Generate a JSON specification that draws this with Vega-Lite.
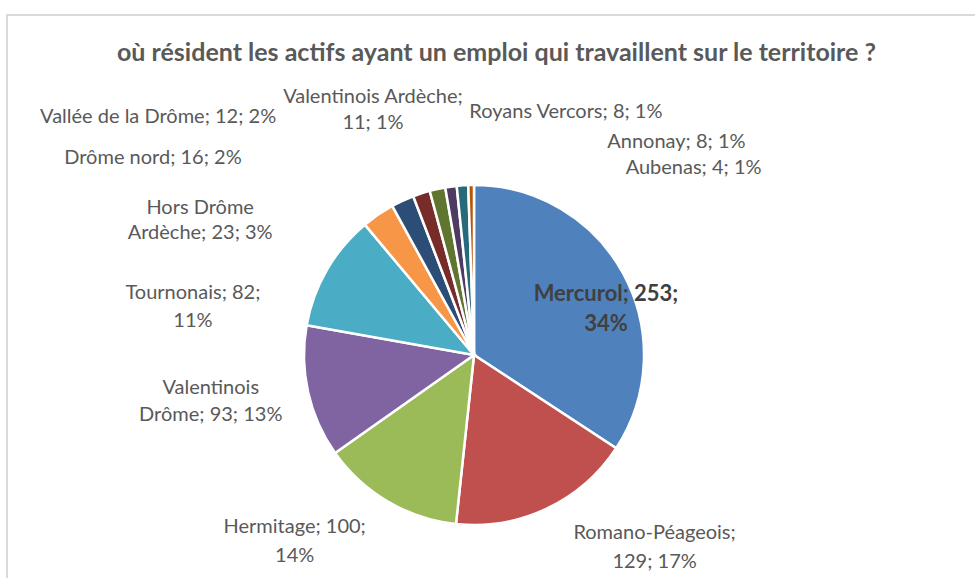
{
  "$schema": "https://vega.github.io/schema/vega-lite/v6.json",
  "autosize": {"type": "fit", "contains": "padding"},
  "width": 975,
  "height": 578,
  "padding": {"left": 7, "top": 15, "right": -5, "bottom": -5},
  "background": "white",
  "view": {"stroke": "#d9d9d9", "strokeWidth": 2},
  "config": {"view": {"stroke": "#d9d9d9", "strokeWidth": 2}},
  "title": {
    "text": "où résident les actifs ayant un emploi qui travaillent sur le territoire ?",
    "font": "Lato", "fontSize": 25, "fontWeight": "bold", "color": "#595959",
    "anchor": "middle", "baseline": "middle", "offset": -63, "dx": 3
  },
  "data": {"values": [
    {"o": 1, "name": "Mercurol", "value": 253, "label": "Mercurol; 253;\n34%"},
    {"o": 2, "name": "Romano-Péageois", "value": 129, "label": "Romano-Péageois;\n129; 17%"},
    {"o": 3, "name": "Hermitage", "value": 100, "label": "Hermitage; 100;\n14%"},
    {"o": 4, "name": "Valentinois Drôme", "value": 93, "label": "Valentinois\nDrôme; 93; 13%"},
    {"o": 5, "name": "Tournonais", "value": 82, "label": "Tournonais; 82;\n11%"},
    {"o": 6, "name": "Hors Drôme Ardèche", "value": 23, "label": "Hors Drôme\nArdèche; 23; 3%"},
    {"o": 7, "name": "Drôme nord", "value": 16, "label": "Drôme nord; 16; 2%"},
    {"o": 8, "name": "Vallée de la Drôme", "value": 12, "label": "Vallée de la Drôme; 12; 2%"},
    {"o": 9, "name": "Valentinois Ardèche", "value": 11, "label": "Valentinois Ardèche;\n11; 1%"},
    {"o": 10, "name": "Royans Vercors", "value": 8, "label": "Royans Vercors; 8; 1%"},
    {"o": 11, "name": "Annonay", "value": 8, "label": "Annonay; 8; 1%"},
    {"o": 12, "name": "Aubenas", "value": 4, "label": "Aubenas; 4; 1%"}
  ]},
  "encoding": {
    "theta": {"field": "value", "type": "quantitative", "stack": true},
    "order": {"field": "o", "type": "quantitative"}
  },
  "layer": [
    {
      "mark": {"type": "arc", "x": 467, "y": 340, "outerRadius": 170, "stroke": "white", "strokeWidth": 2.5},
      "encoding": {
        "color": {"field": "name", "type": "nominal", "legend": null,
          "scale": {
            "domain": ["Mercurol", "Romano-Péageois", "Hermitage", "Valentinois Drôme", "Tournonais", "Hors Drôme Ardèche", "Drôme nord", "Vallée de la Drôme", "Valentinois Ardèche", "Royans Vercors", "Annonay", "Aubenas"],
            "range": ["#4F81BD", "#C0504D", "#9BBB59", "#8064A2", "#4BACC6", "#F79646", "#2C4D75", "#772C2A", "#5F7530", "#4D3B62", "#276A7C", "#B65708"]
          }
        }
      }
    },
    {
      "mark": {"type": "text", "x": 467, "y": 340, "radius": 150, "dx": 0, "dy": 10, "font": "Lato", "fontSize": 22, "fontWeight": "bold", "fill": "#404040", "lineBreak": "\n", "lineHeight": 30, "align": "center", "baseline": "middle"},
      "encoding": {"text": {"condition": {"test": "datum.name === 'Mercurol'", "field": "label"}, "value": ""}}
    },
    {
      "mark": {"type": "text", "x": 467, "y": 340, "radius": 200, "dx": 95, "dy": -3, "font": "Lato", "fontSize": 20, "fill": "#595959", "lineBreak": "\n", "lineHeight": 29, "align": "center", "baseline": "middle"},
      "encoding": {"text": {"condition": {"test": "datum.name === 'Romano-Péageois'", "field": "label"}, "value": ""}}
    },
    {
      "mark": {"type": "text", "x": 467, "y": 340, "radius": 200, "dx": -78, "dy": 0, "font": "Lato", "fontSize": 20, "fill": "#595959", "lineBreak": "\n", "lineHeight": 29, "align": "center", "baseline": "middle"},
      "encoding": {"text": {"condition": {"test": "datum.name === 'Hermitage'", "field": "label"}, "value": ""}}
    },
    {
      "mark": {"type": "text", "x": 467, "y": 340, "radius": 200, "dx": -68, "dy": -10, "font": "Lato", "fontSize": 20, "fill": "#595959", "lineBreak": "\n", "lineHeight": 27, "align": "center", "baseline": "middle"},
      "encoding": {"text": {"condition": {"test": "datum.name === 'Valentinois Drôme'", "field": "label"}, "value": ""}}
    },
    {
      "mark": {"type": "text", "x": 467, "y": 340, "radius": 200, "dx": -108, "dy": 38, "font": "Lato", "fontSize": 20, "fill": "#595959", "lineBreak": "\n", "lineHeight": 28, "align": "center", "baseline": "middle"},
      "encoding": {"text": {"condition": {"test": "datum.name === 'Tournonais'", "field": "label"}, "value": ""}}
    },
    {
      "mark": {"type": "text", "x": 467, "y": 340, "radius": 200, "dx": -161, "dy": 18, "font": "Lato", "fontSize": 20, "fill": "#595959", "lineBreak": "\n", "lineHeight": 25, "align": "center", "baseline": "middle"},
      "encoding": {"text": {"condition": {"test": "datum.name === 'Hors Drôme Ardèche'", "field": "label"}, "value": ""}}
    },
    {
      "mark": {"type": "text", "x": 467, "y": 340, "radius": 200, "dx": -237, "dy": -16, "font": "Lato", "fontSize": 20, "fill": "#595959", "align": "center", "baseline": "middle"},
      "encoding": {"text": {"condition": {"test": "datum.name === 'Drôme nord'", "field": "label"}, "value": ""}}
    },
    {
      "mark": {"type": "text", "x": 467, "y": 340, "radius": 200, "dx": -254, "dy": -48, "font": "Lato", "fontSize": 20, "fill": "#595959", "align": "center", "baseline": "middle"},
      "encoding": {"text": {"condition": {"test": "datum.name === 'Vallée de la Drôme'", "field": "label"}, "value": ""}}
    },
    {
      "mark": {"type": "text", "x": 467, "y": 340, "radius": 200, "dx": -58, "dy": -63, "font": "Lato", "fontSize": 20, "fill": "#595959", "lineBreak": "\n", "lineHeight": 26, "align": "center", "baseline": "middle"},
      "encoding": {"text": {"condition": {"test": "datum.name === 'Valentinois Ardèche'", "field": "label"}, "value": ""}}
    },
    {
      "mark": {"type": "text", "x": 467, "y": 340, "radius": 200, "dx": 119, "dy": -45, "font": "Lato", "fontSize": 20, "fill": "#595959", "align": "center", "baseline": "middle"},
      "encoding": {"text": {"condition": {"test": "datum.name === 'Royans Vercors'", "field": "label"}, "value": ""}}
    },
    {
      "mark": {"type": "text", "x": 467, "y": 340, "radius": 200, "dx": 216, "dy": -13, "font": "Lato", "fontSize": 20, "fill": "#595959", "align": "center", "baseline": "middle"},
      "encoding": {"text": {"condition": {"test": "datum.name === 'Annonay'", "field": "label"}, "value": ""}}
    },
    {
      "mark": {"type": "text", "x": 467, "y": 340, "radius": 200, "dx": 223, "dy": 13, "font": "Lato", "fontSize": 20, "fill": "#595959", "align": "center", "baseline": "middle"},
      "encoding": {"text": {"condition": {"test": "datum.name === 'Aubenas'", "field": "label"}, "value": ""}}
    }
  ]
}
